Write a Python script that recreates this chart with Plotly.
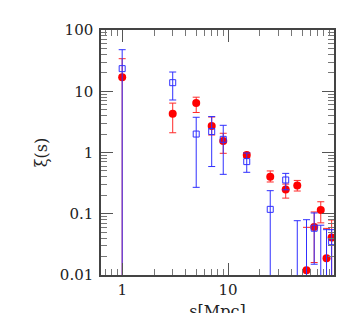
import plotly.graph_objects as go

# separation s [Mpc]
s = [1, 3, 5, 7, 9, 15, 25, 35, 45, 55, 65, 75, 85, 95]

# red filled circles
red_xi = [17, 4.3, 6.4, 2.7, 1.54, 0.91, 0.40, 0.25, 0.29, 0.012, 0.061, 0.115, 0.0187, 0.041]
red_up = [17, 2.1, 1.6, 1.1, 0.52, 0.09, 0.10, 0.055, 0.06, 0.048, 0.046, 0.042, 0.039, 0.038]
red_dn = [17, 2.2, 1.9, 0.77, 0.57, 0.08, 0.07, 0.07, 0.055, 0.012, 0.045, 0.044, 0.0187, 0.038]

# blue open squares
blue_xi = [23.4, 13.8, 2.0, 2.2, 1.64, 0.71, 0.118, 0.356, 0.005, 0.005, 0.058, 0.005, 0.005, 0.035]
blue_up = [24.3, 6.8, 1.76, 1.66, 1.14, 0.27, 0.12, 0.10, 0.072, 0.075, 0.045, 0.06, 0.05, 0.02]
blue_dn = [23.4, 6.6, 1.73, 1.61, 1.2, 0.235, 0.118, 0.11, 0.005, 0.005, 0.043, 0.005, 0.005, 0.035]

y_tickvals = [0.01, 0.1, 1, 10, 100]
y_ticktext = ["0.01", "0.1", "1", "10", "100"]
x_tickvals = [1, 10, 100]
x_ticktext = ["1", "10", ""]

FONT = "DejaVu Serif"


def minor_vals(decades):
    return [k * 10.0 ** d for d in decades for k in range(2, 10)]


fig = go.Figure()
fig.add_trace(go.Scatter(
    x=s, y=red_xi, mode="markers",
    marker=dict(symbol="circle", size=8, color="#ff0000"),
    error_y=dict(type="data", symmetric=False, array=red_up, arrayminus=red_dn,
                 color="#ff2a2a", thickness=1, width=3.5),
    showlegend=False))
fig.add_trace(go.Scatter(
    x=s, y=blue_xi, mode="markers",
    marker=dict(symbol="square-open", size=6, color="#3030ff", line=dict(width=1)),
    error_y=dict(type="data", symmetric=False, array=blue_up, arrayminus=blue_dn,
                 color="#3030ff", thickness=1, width=3.5),
    showlegend=False))

axis_common = dict(
    type="log", showgrid=False, zeroline=False,
    showline=True, linecolor="#444", linewidth=1.5, mirror="ticks",
    ticks="inside", ticklen=12, tickwidth=1, tickcolor="#555",
    tickfont=dict(family=FONT, size=15, color="#222"),
)

fig.update_xaxes(range=[-0.2, 2.0], tickmode="array", tickvals=x_tickvals, ticktext=x_ticktext,
                 minor=dict(ticks="inside", ticklen=6, tickwidth=1, tickcolor="#777",
                            showgrid=False, tickmode="array", tickvals=minor_vals([-1, 0, 1])),
                 title=dict(text="s[Mpc]", font=dict(family=FONT, size=16, color="#222"), standoff=12),
                 **axis_common)
fig.update_yaxes(range=[-2, 2], tickmode="array", tickvals=y_tickvals, ticktext=y_ticktext,
                 ticklabelstandoff=3,
                 minor=dict(ticks="inside", ticklen=6, tickwidth=1, tickcolor="#777",
                            showgrid=False, tickmode="array", tickvals=minor_vals([-2, -1, 0, 1])),
                 title=dict(text="ξ(s)", font=dict(family=FONT, size=16, color="#222"), standoff=8),
                 **axis_common)

fig.update_layout(
    width=364, height=313,
    margin=dict(l=93, r=38, t=22, b=46, autoexpand=False),
    paper_bgcolor="white", plot_bgcolor="white",
    font=dict(family=FONT),
)

fig.write_html("out.html")
